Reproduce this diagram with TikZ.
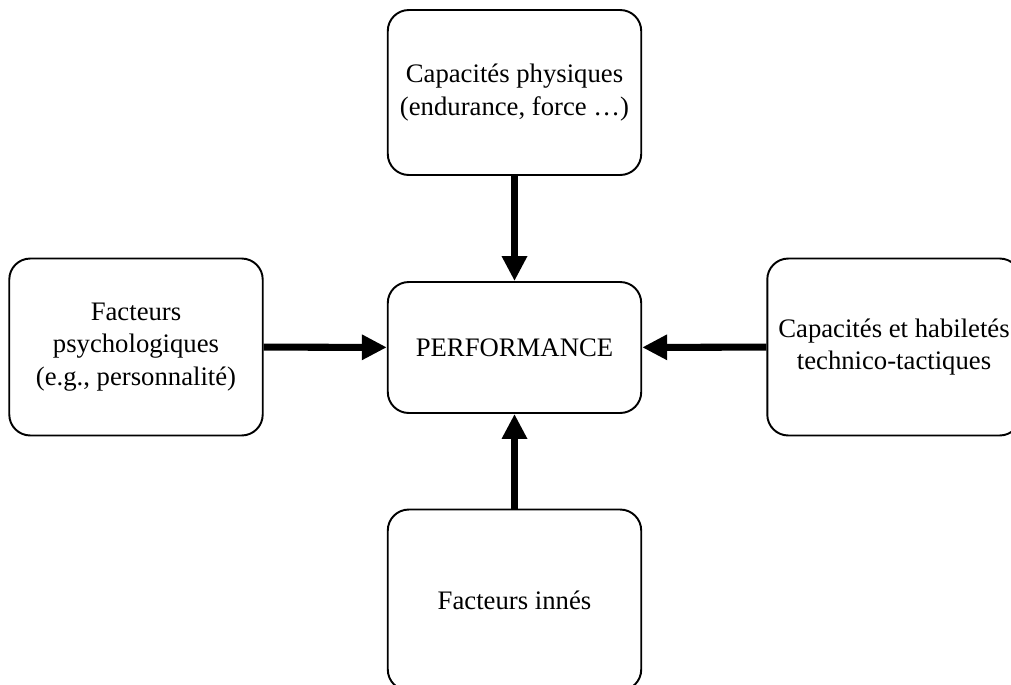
\documentclass[tikz,border=0pt]{standalone}
\usepackage{fontspec}
\setmainfont{Liberation Serif}
\usetikzlibrary{arrows.meta}

\begin{document}
\begin{tikzpicture}[x=0.02cm,y=-0.02cm,line cap=butt]
	\tikzstyle{boite}=[draw,line width=1.1pt,rounded corners=0.42cm,align=center,inner sep=2pt,
		font=\fontsize{15.2}{18.4}\selectfont];
	\tikzstyle{fleche}=[line width=4pt,-{Triangle[length=0.5cm,width=0.48cm]}];
%<--------------------------------------------------------------------------->%

	\useasboundingbox (0,0) rectangle (1011,684);
	\newcommand{\larg}{5.07cm}
	%% Boxes
	\node[boite,minimum width=\larg,minimum height=3.3cm] (phys)  at (514.5,92.5)
		{Capacités physiques\\(endurance, force …)};
	\node[boite,minimum width=\larg,minimum height=2.62cm] (perf)  at (514.5,347.5) {PERFORMANCE};
	\node[boite,minimum width=\larg,minimum height=3.54cm] (psy)   at (136,347)
		{Facteurs\\psychologiques\\(e.g., personnalité)};
	\node[boite,minimum width=\larg,minimum height=3.54cm] (tech)  at (894,347)
		{Capacités et habiletés\\technico-tactiques};
	\node[boite,minimum width=\larg,minimum height=3.62cm] (innes) at (514.5,600) {Facteurs innés};
	%% Arrows
	\draw[fleche] (phys) -- (perf);
	\draw[fleche] (psy) -- (perf);
	\draw[fleche] (tech) -- (perf);
	\draw[fleche] (innes) -- (perf);
\end{tikzpicture}
\end{document}
